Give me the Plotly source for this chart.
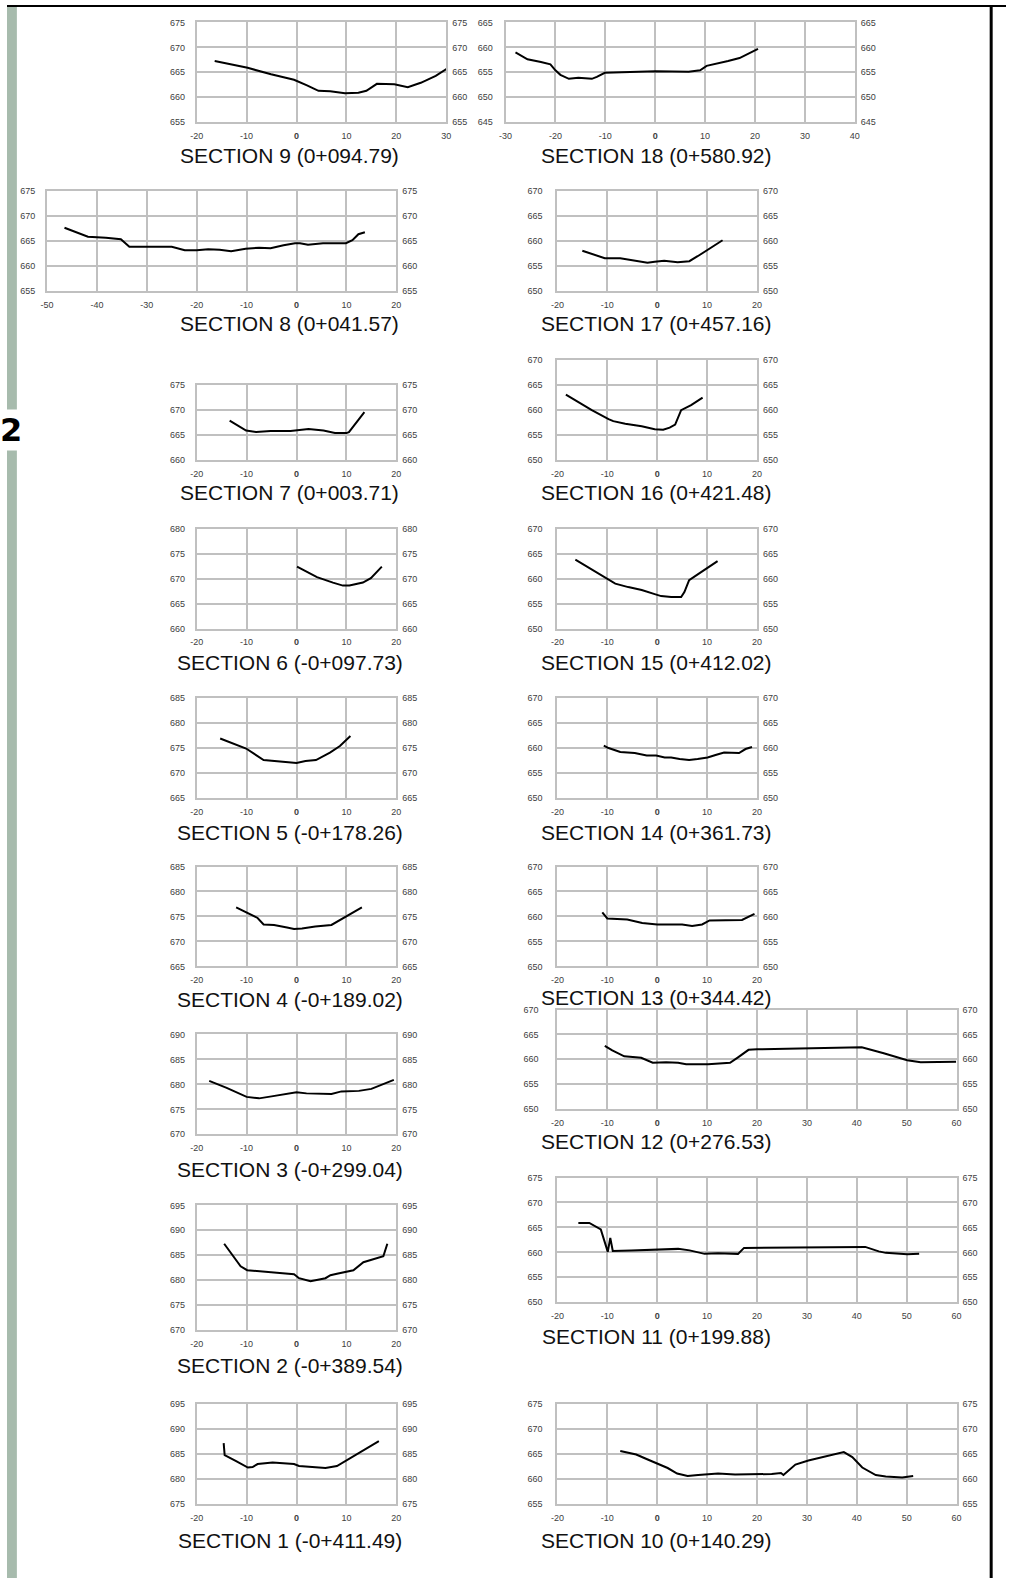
import plotly.graph_objects as go

W, H = 1011, 1583

# ---------------- data (station offset, elevation) ----------------
s1_x = [-14.6, -14.4, -12.1, -9.75, -8.8, -7.8, -4.8, -2.8, -0.5, 0.5, 3.5, 5.8, 8.1, 10.1, 12.4, 16.5]
s1_y = [687.2, 684.8, 683.6, 682.3, 682.4, 683.0, 683.3, 683.2, 683.0, 682.6, 682.4, 682.2, 682.6, 683.8, 685.1, 687.6]

s2_x = [-14.5, -12.7, -11.2, -9.9, -7.1, -4.5, -0.5, 0.5, 2.8, 5.8, 6.8, 8.1, 9.75, 11.4, 13.4, 15.4, 17.4, 18.2]
s2_y = [687.3, 684.8, 682.8, 682.0, 681.8, 681.6, 681.2, 680.4, 679.8, 680.4, 681.0, 681.3, 681.6, 682.0, 683.6, 684.2, 684.8, 687.3]

s3_x = [-17.5, -14.0, -10.0, -7.5, -5.0, -2.0, 0.0, 2.0, 5.0, 7.0, 9.0, 12.5, 15.0, 19.5]
s3_y = [680.7, 679.3, 677.5, 677.2, 677.6, 678.1, 678.4, 678.2, 678.2, 678.1, 678.6, 678.7, 679.1, 680.9]

s4_x = [-12.1, -9.1, -7.8, -6.6, -4.5, -1.9, -0.5, 1.1, 3.75, 7.0, 8.35, 10.0, 13.1]
s4_y = [676.8, 675.4, 674.7, 673.4, 673.3, 672.8, 672.5, 672.6, 673.0, 673.3, 674.1, 675.1, 676.8]

s5_x = [-15.3, -10.1, -6.6, -4.5, -1.9, 0.0, 1.8, 3.9, 6.7, 8.7, 10.8]
s5_y = [676.9, 674.9, 672.6, 672.4, 672.2, 672.0, 672.4, 672.6, 674.1, 675.4, 677.4]

s6_x = [0.1, 4.1, 7.3, 9.3, 10.6, 13.3, 14.9, 17.1]
s6_y = [672.4, 670.3, 669.2, 668.6, 668.6, 669.2, 670.1, 672.4]

s7_x = [-13.4, -10.1, -8.1, -5.2, -1.2, 0.4, 2.4, 5.4, 7.7, 10.0, 10.5, 13.6]
s7_y = [667.9, 665.9, 665.6, 665.8, 665.8, 666.0, 666.2, 665.9, 665.4, 665.4, 665.6, 669.6]

s8_x = [-46.5, -41.8, -38.2, -35.2, -33.5, -25.0, -22.4, -20.0, -17.7, -15.4, -13.1, -10.2,
        -7.5, -5.2, -2.6, -0.3, 0.7, 2.3, 5.3, 7.9, 9.9, 11.2, 12.4, 13.7]
s8_y = [667.7, 665.9, 665.7, 665.4, 663.9, 663.9, 663.2, 663.2, 663.4, 663.3, 663.0, 663.5,
        663.7, 663.6, 664.2, 664.6, 664.6, 664.3, 664.6, 664.6, 664.6, 665.2, 666.4, 666.8]

s9_x = [-16.4, -9.8, -5.1, -0.5, 2.1, 4.4, 6.75, 9.7, 12.4, 14.0, 16.1, 19.6, 22.3, 24.9, 27.9, 30.9]
s9_y = [667.25, 665.9, 664.6, 663.5, 662.4, 661.3, 661.2, 660.8, 660.9, 661.3, 662.7, 662.6, 662.0, 662.9, 664.3, 666.2]

s10_x = [-7.4, -4.2, -1.9, 0.1, 2.1, 4.0, 6.1, 8.2, 12.2, 15.6, 22.95, 24.8, 25.3, 27.7, 30.3,
         37.4, 39.1, 41.1, 43.8, 45.8, 49.1, 51.3]
s10_y = [665.6, 664.9, 663.9, 663.1, 662.2, 661.1, 660.6, 660.8, 661.1, 660.9, 661.0, 661.2, 660.8, 662.9, 663.7,
         665.4, 664.4, 662.3, 660.8, 660.5, 660.3, 660.6]

s11_x = [-15.8, -13.6, -11.3, -9.9, -9.4, -8.9, -5.2, 0.1, 4.2, 6.5, 9.5, 12.2, 16.2, 17.4, 41.7, 44.4, 45.8, 50.1, 52.5]
s11_y = [665.9, 665.9, 664.6, 660.1, 662.9, 660.3, 660.4, 660.5, 660.7, 660.4, 659.7, 659.8, 659.7, 660.9, 661.1, 660.2, 659.9, 659.6, 659.7]

s12_x = [-10.5, -9.0, -6.6, -3.2, -0.9, 1.8, 4.2, 5.8, 10.2, 14.6, 16.2, 18.3, 20.0, 41.0, 45.4, 50.1, 52.8, 59.9]
s12_y = [662.7, 661.8, 660.6, 660.3, 659.3, 659.4, 659.3, 659.0, 659.0, 659.3, 660.4, 661.9, 662.0, 662.4, 661.2, 659.8, 659.4, 659.5]

s13_x = [-11.0, -10.0, -6.0, -3.0, 0.0, 5.0, 7.0, 9.0, 10.5, 14.0, 17.0, 19.5]
s13_y = [660.8, 659.6, 659.4, 658.7, 658.4, 658.4, 658.1, 658.4, 659.2, 659.2, 659.3, 660.5]

s14_x = [-10.7, -9.75, -7.4, -4.5, -2.1, -0.2, 1.5, 2.8, 4.5, 6.4, 8.1, 10.1, 11.7, 13.4, 16.4, 17.7, 19.0]
s14_y = [660.5, 660.0, 659.2, 659.0, 658.5, 658.5, 658.1, 658.1, 657.8, 657.6, 657.8, 658.1, 658.6, 659.1, 659.0, 659.8, 660.2]

s15_x = [-16.4, -13.1, -10.1, -8.4, -5.8, -3.1, -0.5, 0.8, 2.8, 4.8, 5.45, 6.4, 8.8, 12.1]
s15_y = [663.8, 661.8, 660.0, 659.0, 658.3, 657.7, 656.9, 656.5, 656.3, 656.3, 657.3, 659.7, 661.3, 663.5]

s16_x = [-18.3, -15.7, -13.1, -9.75, -8.8, -6.4, -3.1, -0.5, 1.2, 2.5, 3.6, 4.8, 6.8, 9.1]
s16_y = [663.1, 661.5, 660.0, 658.2, 657.8, 657.3, 656.8, 656.2, 656.1, 656.5, 657.1, 660.0, 661.0, 662.5]

s17_x = [-15.0, -10.5, -7.4, -4.5, -1.95, -0.5, 1.4, 4.1, 6.45, 8.1, 10.1, 13.1]
s17_y = [658.1, 656.6, 656.6, 656.1, 655.7, 655.9, 656.1, 655.8, 656.0, 657.0, 658.3, 660.2]

s18_x = [-28.0, -25.6, -22.9, -21.0, -20.0, -19.0, -17.3, -15.4, -12.7, -11.7, -10.1, -5.8, 0.1, 6.7,
         9.0, 10.3, 12.3, 14.6, 16.9, 19.2, 20.6]
s18_y = [659.0, 657.6, 657.05, 656.6, 655.4, 654.5, 653.7, 653.9, 653.7, 654.1, 654.9, 655.0, 655.2, 655.1,
         655.4, 656.3, 656.7, 657.25, 657.85, 659.0, 659.7]

titles = {
    1: "SECTION 1 (-0+411.49)", 2: "SECTION 2 (-0+389.54)", 3: "SECTION 3 (-0+299.04)",
    4: "SECTION 4 (-0+189.02)", 5: "SECTION 5 (-0+178.26)", 6: "SECTION 6 (-0+097.73)",
    7: "SECTION 7 (0+003.71)", 8: "SECTION 8 (0+041.57)", 9: "SECTION 9 (0+094.79)",
    10: "SECTION 10 (0+140.29)", 11: "SECTION 11 (0+199.88)", 12: "SECTION 12 (0+276.53)",
    13: "SECTION 13 (0+344.42)", 14: "SECTION 14 (0+361.73)", 15: "SECTION 15 (0+412.02)",
    16: "SECTION 16 (0+421.48)", 17: "SECTION 17 (0+457.16)", 18: "SECTION 18 (0+580.92)",
}

x_ranges = {1: (-20, 20), 2: (-20, 20), 3: (-20, 20), 4: (-20, 20), 5: (-20, 20), 6: (-20, 20),
            7: (-20, 20), 8: (-50, 20), 9: (-20, 30), 10: (-20, 60), 11: (-20, 60), 12: (-20, 60),
            13: (-20, 20), 14: (-20, 20), 15: (-20, 20), 16: (-20, 20), 17: (-20, 20), 18: (-30, 40)}
y_ranges = {1: (675, 695), 2: (670, 695), 3: (670, 690), 4: (665, 685), 5: (665, 685), 6: (660, 680),
            7: (660, 675), 8: (655, 675), 9: (655, 675), 10: (655, 675), 11: (650, 675), 12: (650, 670),
            13: (650, 670), 14: (650, 670), 15: (650, 670), 16: (650, 670), 17: (650, 670), 18: (645, 665)}

series = {1: (s1_x, s1_y), 2: (s2_x, s2_y), 3: (s3_x, s3_y), 4: (s4_x, s4_y), 5: (s5_x, s5_y),
          6: (s6_x, s6_y), 7: (s7_x, s7_y), 8: (s8_x, s8_y), 9: (s9_x, s9_y), 10: (s10_x, s10_y),
          11: (s11_x, s11_y), 12: (s12_x, s12_y), 13: (s13_x, s13_y), 14: (s14_x, s14_y),
          15: (s15_x, s15_y), 16: (s16_x, s16_y), 17: (s17_x, s17_y), 18: (s18_x, s18_y)}

# ---------------- layout geometry (pixels) ----------------
L_STD, R_STD = 192, 394
RL, RR_STD, RR_WIDE = 557, 759, 961
LT, RT = 286, 657   # title centres (x)
# left, right, top, bottom, title-x, title-y, left-label standoff
geom = {
    9: (192, 444.5, 17.5, 118, LT, 151, 8),
    8: (40.5, 394, 187.5, 288, LT, 321, 8),
    7: (L_STD, R_STD, 382.5, 458, LT, 491, 8),
    6: (L_STD, R_STD, 527, 627.5, LT, 662, 8),
    5: (L_STD, R_STD, 697.5, 798, LT, 833, 8),
    4: (L_STD, R_STD, 867, 967.5, LT, 1001, 8),
    3: (L_STD, R_STD, 1036, 1136.5, LT, 1172, 8),
    2: (L_STD, R_STD, 1208, 1333.5, LT, 1369, 8),
    1: (L_STD, R_STD, 1408, 1508.5, LT, 1545, 8),
    18: (504.5, 858, 17.5, 118, RT, 151, 9),
    17: (RL, RR_STD, 187.5, 288, RT, 321, 11),
    16: (RL, RR_STD, 357.5, 458, RT, 491, 11),
    15: (RL, RR_STD, 527, 627.5, RT, 662, 11),
    14: (RL, RR_STD, 697.5, 798, RT, 833, 11),
    13: (RL, RR_STD, 867, 967.5, RT, 999, 11),
    12: (RL, RR_WIDE, 1011, 1111, RT, 1144, 15),
    11: (RL, RR_WIDE, 1180, 1305.5, RT, 1340, 11),
    10: (RL, RR_WIDE, 1408, 1508.5, RT, 1545, 11),
}

GRID = "#c0c0c0"
TICKC = "#404040"
FONT = "Liberation Sans, Arial, sans-serif"

fig = go.Figure()
lay = {}
annotations = []
N = 18
for k, sec in enumerate(sorted(geom.keys()), start=1):
    x0, x1, y0, y1, tcx, tcy, lstand = geom[sec]
    xmin, xmax = x_ranges[sec]
    ymin, ymax = y_ranges[sec]
    xs, ys = series[sec]
    xn = "x" if k == 1 else f"x{k}"
    yn = "y" if k == 1 else f"y{k}"
    yr = f"y{k + N}"
    xkey = "xaxis" if k == 1 else f"xaxis{k}"
    ykey = "yaxis" if k == 1 else f"yaxis{k}"
    yrkey = f"yaxis{k + N}"

    xt = list(range(xmin, xmax + 1, 10))
    xtt = ["<b>0</b>" if v == 0 else str(v) for v in xt]
    yt = list(range(ymin, ymax + 1, 5))

    fig.add_trace(go.Scatter(x=xs, y=ys, xaxis=xn, yaxis=yn, mode="lines",
                             line=dict(color="black", width=2), showlegend=False, hoverinfo="skip"))
    fig.add_trace(go.Scatter(x=[None], y=[None], xaxis=xn, yaxis=yr, mode="lines",
                             showlegend=False, hoverinfo="skip"))

    lay[xkey] = dict(domain=[x0 / W, x1 / W], range=[xmin, xmax], anchor=yn,
                     tickvals=xt, ticktext=xtt, showgrid=True, gridcolor=GRID, gridwidth=2,
                     showline=True, mirror=True, linecolor=GRID, linewidth=2, zeroline=False,
                     ticks="", tickfont=dict(size=9, color=TICKC, family=FONT),
                     ticklabelstandoff=4, fixedrange=True)
    lay[ykey] = dict(domain=[1 - y1 / H, 1 - y0 / H], range=[ymin, ymax], anchor=xn,
                     tickvals=yt, showgrid=True, gridcolor=GRID, gridwidth=2,
                     showline=True, mirror=True, linecolor=GRID, linewidth=2, zeroline=False,
                     ticks="", tickfont=dict(size=9, color=TICKC, family=FONT),
                     ticklabelstandoff=lstand, fixedrange=True)
    lay[yrkey] = dict(overlaying=yn, side="right", anchor=xn, range=[ymin, ymax],
                      tickvals=yt, showgrid=False, showline=False, zeroline=False,
                      ticks="", tickfont=dict(size=9, color=TICKC, family=FONT),
                      ticklabelstandoff=5, fixedrange=True)

    annotations.append(dict(text=titles[sec], x=tcx / W, y=1 - tcy / H, xref="paper", yref="paper",
                            xanchor="center", yanchor="middle", showarrow=False,
                            font=dict(size=21, color="#111111", family=FONT)))

# page number glyph at the left edge
annotations.append(dict(text="<b>2</b>", x=17 / W, y=1 - 428 / H, xref="paper", yref="paper",
                        xanchor="right", yanchor="middle", showarrow=False, bgcolor="white",
                        font=dict(size=32, color="black", family="DejaVu Sans, sans-serif")))

shapes = [
    dict(type="rect", xref="paper", yref="paper", x0=0, x1=10 / W, y0=0, y1=1,
         fillcolor="#a7bbad", line=dict(width=0), layer="below"),
    dict(type="line", xref="paper", yref="paper", x0=0, x1=1, y0=1 - 1 / H, y1=1 - 1 / H,
         line=dict(color="black", width=2)),
    dict(type="line", xref="paper", yref="paper", x0=996 / W, x1=996 / W, y0=0, y1=1,
         line=dict(color="black", width=3)),
]

fig.update_layout(width=W, height=H, margin=dict(l=0, r=0, t=0, b=0),
                  paper_bgcolor="white", plot_bgcolor="white",
                  annotations=annotations, shapes=shapes, showlegend=False, **lay)

fig.write_html("out.html", config={"displayModeBar": False},
               post_script="document.body.style.margin='0px';document.body.style.overflow='hidden';")
